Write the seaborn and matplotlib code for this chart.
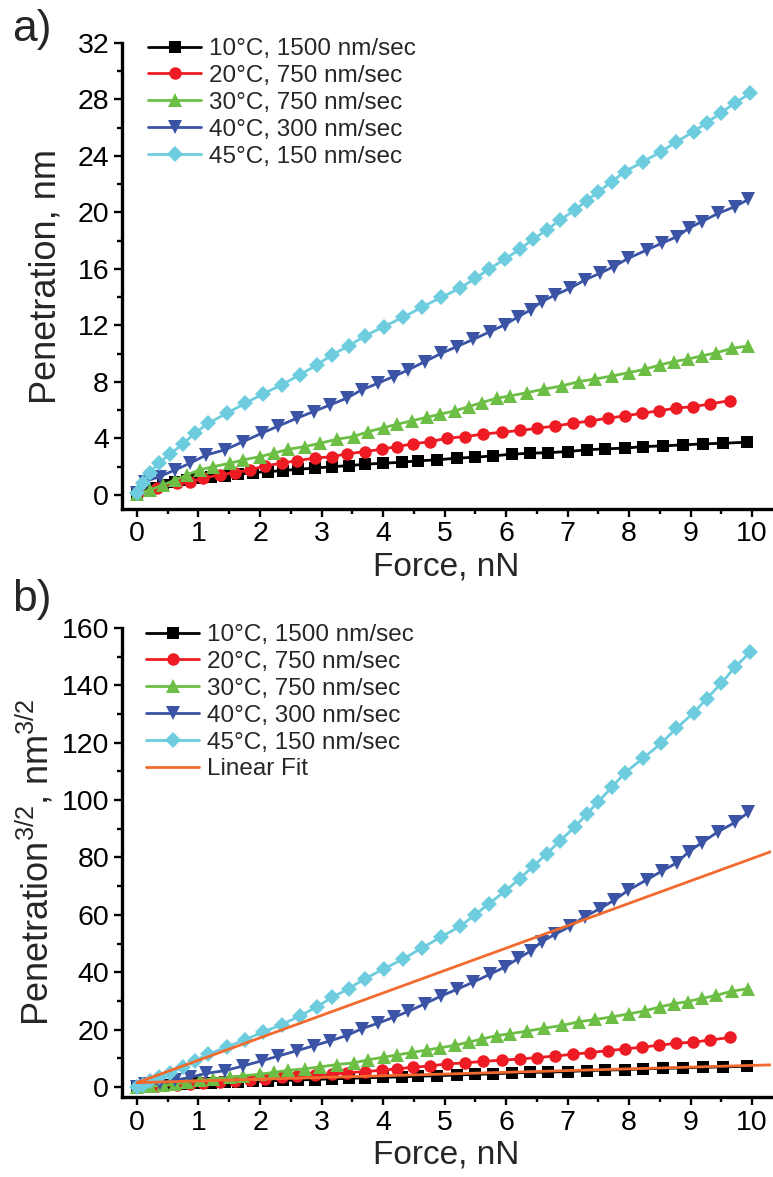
import numpy as np
import pandas as pd
import matplotlib
matplotlib.use("Agg")
import matplotlib.pyplot as plt
import seaborn as sns
from matplotlib.ticker import MultipleLocator

sns.set_theme(style="ticks")
plt.rcParams['font.family'] = ['Liberation Sans', 'DejaVu Sans']
plt.rcParams['mathtext.fontset'] = 'custom'
plt.rcParams['mathtext.rm'] = 'Liberation Sans'
plt.rcParams['mathtext.default'] = 'regular'

# ---------------- data ----------------
labels = ["10°C, 1500 nm/sec", "20°C, 750 nm/sec", "30°C, 750 nm/sec",
          "40°C, 300 nm/sec", "45°C, 150 nm/sec"]

x_10 = [0, 0.24, 0.43, 0.62, 0.81, 1.0, 1.21, 1.43, 1.65, 1.89, 2.13, 2.38, 2.62,
        2.89, 3.17, 3.44, 3.71, 4.0, 4.30, 4.57, 4.87, 5.2, 5.5, 5.79, 6.09, 6.39,
        6.68, 7.0, 7.31, 7.61, 7.93, 8.23, 8.55, 8.88, 9.2, 9.53, 9.92]
p_10 = [0.12, 0.47, 0.71, 0.94, 1.06, 1.18, 1.3, 1.37, 1.46, 1.58, 1.65, 1.72, 1.82,
        1.89, 2.0, 2.07, 2.17, 2.24, 2.31, 2.41, 2.48, 2.6, 2.67, 2.76, 2.88, 2.95,
        2.99, 3.07, 3.19, 3.26, 3.31, 3.42, 3.47, 3.54, 3.61, 3.66, 3.73]

x_20 = [0.02, 0.32, 0.65, 0.86, 1.08, 1.35, 1.59, 1.84, 2.08, 2.35, 2.60, 2.89, 3.17,
        3.41, 3.71, 3.98, 4.22, 4.49, 4.76, 5.04, 5.33, 5.63, 5.93, 6.23, 6.51, 6.80,
        7.09, 7.37, 7.65, 7.93, 8.21, 8.48, 8.76, 9.04, 9.32, 9.64]
p_20 = [0.12, 0.47, 0.83, 0.94, 1.18, 1.42, 1.58, 1.77, 2.05, 2.24, 2.43, 2.60, 2.71,
        2.90, 3.07, 3.23, 3.42, 3.61, 3.77, 4.01, 4.13, 4.30, 4.44, 4.56, 4.72, 4.88,
        5.07, 5.24, 5.43, 5.59, 5.78, 5.95, 6.14, 6.25, 6.44, 6.68]

x_30 = [0, 0.21, 0.43, 0.62, 0.81, 1.02, 1.24, 1.51, 1.73, 2.0, 2.22, 2.46, 2.73, 2.98,
        3.25, 3.52, 3.76, 4.01, 4.23, 4.47, 4.72, 4.93, 5.17, 5.39, 5.61, 5.85, 6.07,
        6.34, 6.61, 6.91, 7.18, 7.45, 7.72, 8.0, 8.26, 8.50, 8.73, 8.95, 9.18, 9.42,
        9.68, 9.94]
p_30 = [0.05, 0.35, 0.71, 1.06, 1.42, 1.77, 2.0, 2.24, 2.48, 2.71, 2.95, 3.23, 3.42,
        3.66, 3.94, 4.13, 4.48, 4.76, 5.0, 5.25, 5.5, 5.72, 5.95, 6.25, 6.54, 6.85, 7.01,
        7.24, 7.48, 7.72, 8.02, 8.21, 8.42, 8.66, 8.90, 9.20, 9.44, 9.61, 9.84, 10.07,
        10.38, 10.55]

x_40 = [0, 0.13, 0.37, 0.62, 0.86, 1.13, 1.43, 1.73, 2.03, 2.30, 2.60, 2.87, 3.14, 3.41,
        3.65, 3.92, 4.17, 4.41, 4.68, 4.95, 5.20, 5.47, 5.74, 5.98, 6.20, 6.40, 6.58,
        6.80, 7.04, 7.28, 7.53, 7.75, 7.99, 8.29, 8.53, 8.78, 8.97, 9.18, 9.45, 9.72, 9.94]
p_40 = [0.12, 0.94, 1.30, 1.77, 2.24, 2.83, 3.19, 3.78, 4.37, 4.88, 5.43, 5.90, 6.37,
        6.85, 7.43, 7.91, 8.38, 8.85, 9.44, 10.03, 10.5, 11.02, 11.56, 12.05, 12.62, 13.1,
        13.69, 14.16, 14.63, 15.22, 15.70, 16.17, 16.76, 17.35, 17.82, 18.29, 18.88,
        19.35, 19.94, 20.41, 20.93]

x_45 = [0, 0.10, 0.21, 0.35, 0.54, 0.75, 0.94, 1.16, 1.46, 1.76, 2.05, 2.35, 2.65, 2.92,
        3.17, 3.44, 3.71, 4.01, 4.33, 4.63, 4.95, 5.25, 5.50, 5.72, 5.98, 6.22, 6.44,
        6.66, 6.88, 7.12, 7.31, 7.50, 7.72, 7.93, 8.23, 8.52, 8.77, 9.05, 9.26, 9.50,
        9.72, 9.97]
p_45 = [0.12, 0.87, 1.58, 2.24, 2.90, 3.61, 4.37, 5.07, 5.78, 6.49, 7.15, 7.79, 8.50,
        9.20, 9.91, 10.55, 11.26, 11.92, 12.58, 13.29, 14.0, 14.63, 15.34, 15.98, 16.69,
        17.39, 18.10, 18.76, 19.47, 20.18, 20.84, 21.47, 22.18, 22.89, 23.6, 24.3, 25.01,
        25.72, 26.36, 27.06, 27.77, 28.43]

# linear fits in panel b (end points)
fit_x = [0.0, 10.3]
fit_steep = [1.5, 82.0]
fit_shallow = [1.5, 7.7]

x_ticks = list(range(0, 11))
y_ticks_a = list(range(0, 33, 4))
y_ticks_b = list(range(0, 161, 20))

# ---------------- styles ----------------
colors = ["#000000", "#ED1C24", "#6CBE45", "#3A53A4", "#6DCCDD"]
markers = ["s", "o", "^", "v", "D"]
msizes = [8, 9, 10, 10, 8]
fit_color = "#F26A2E"

xs = [x_10, x_20, x_30, x_40, x_45]
ps = [p_10, p_20, p_30, p_40, p_45]

W, H = 773, 1177
fig = plt.figure(figsize=(W / 100, H / 100), dpi=100)
axA = fig.add_axes([121.6 / W, 1 - 509 / H, 649 / W, 466 / H])
axB = fig.add_axes([121.6 / W, 1 - 1097 / H, 649 / W, 469 / H])

TICK_FS = 20.5
XLABEL_FS = 24
YLABEL_FS = 26
LEG_FS = 17.5


def draw(ax, transform):
    for x, p, c, m, ms, lab in zip(xs, ps, colors, markers, msizes, labels):
        df = pd.DataFrame({"x": x, "y": transform(np.asarray(p))})
        sns.lineplot(data=df, x="x", y="y", ax=ax, color=c, marker=m,
                     markersize=ms, markeredgewidth=0, linewidth=2.0,
                     label=lab, sort=False, clip_on=False)


draw(axA, lambda p: p)
draw(axB, lambda p: p ** 1.5)

fdf = pd.DataFrame({"x": fit_x + fit_x,
                    "y": fit_steep + fit_shallow,
                    "g": ["steep", "steep", "shallow", "shallow"]})
sns.lineplot(data=fdf[fdf.g == "steep"], x="x", y="y", ax=axB, color=fit_color,
             linewidth=2.0, label="Linear Fit")
sns.lineplot(data=fdf[fdf.g == "shallow"], x="x", y="y", ax=axB, color=fit_color,
             linewidth=2.0, label="_nolegend_")

for ax, yt, ylim, minor in [(axA, y_ticks_a, (-1.0, 32), 2), (axB, y_ticks_b, (-3.5, 160), 10)]:
    ax.set_xlim(-0.25, 10.3)
    ax.set_ylim(*ylim)
    ax.set_xticks(x_ticks)
    ax.set_yticks(yt)
    ax.xaxis.set_minor_locator(MultipleLocator(0.5))
    ax.yaxis.set_minor_locator(MultipleLocator(minor))
    for s in ["top", "right"]:
        ax.spines[s].set_visible(False)
    for s in ["left", "bottom"]:
        ax.spines[s].set_linewidth(2.4)
        ax.spines[s].set_color("black")
    ax.tick_params(which="major", direction="out", length=6, width=1.7,
                   labelsize=TICK_FS, pad=3, colors="black")
    ax.tick_params(which="minor", direction="out", length=3.6, width=1.7, colors="black")
    ax.set_xlabel("Force, nN", fontsize=XLABEL_FS, labelpad=3)
    ax.set_facecolor("white")

axA.set_ylabel("Penetration, nm", fontsize=YLABEL_FS, labelpad=10)
axB.set_ylabel("Penetration$^{3/2}$, nm$^{3/2}$", fontsize=YLABEL_FS, labelpad=4)

leg_kw = dict(frameon=False, fontsize=LEG_FS, handlelength=2.2, handletextpad=0.3,
              labelspacing=0.2, borderpad=0, borderaxespad=0, numpoints=1,
              bbox_transform=fig.transFigure, loc="upper left")
axA.legend(bbox_to_anchor=(148 / W, 1 - 38 / H), **leg_kw)
axB.legend(bbox_to_anchor=(146 / W, 1 - 624 / H), **leg_kw)

fig.text(12 / W, 1 - 30 / H, "a)", fontsize=32, va="center", ha="left")
fig.text(12 / W, 1 - 600 / H, "b)", fontsize=32, va="center", ha="left")

fig.savefig("out.png", dpi=100, facecolor="white")
